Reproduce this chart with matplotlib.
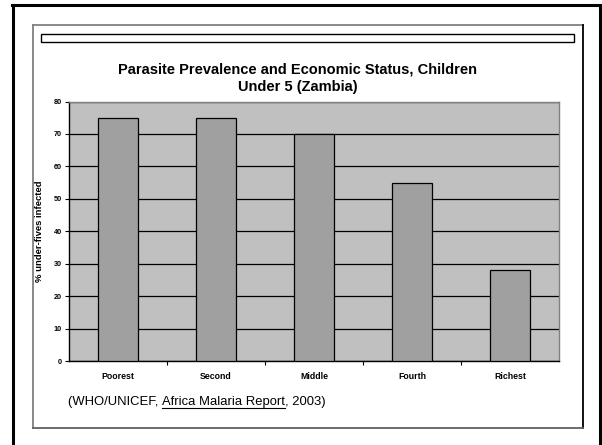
import matplotlib
matplotlib.use("Agg")
import matplotlib.pyplot as plt
from matplotlib.lines import Line2D
from matplotlib.patches import Rectangle

categories = ["Poorest", "Second", "Middle", "Fourth", "Richest"]
values = [75, 75, 70, 55, 28]
yticks = [0, 10, 20, 30, 40, 50, 60, 70, 80]
title = "Parasite Prevalence and Economic Status, Children\nUnder 5 (Zambia)"
ylabel = "% under-fives infected"
cite_pre = "(WHO/UNICEF, "
cite_ul = "Africa Malaria Report"
cite_post = ", 2003)"

plt.rcParams['font.family'] = ['Liberation Sans', 'DejaVu Sans']

W, H = 602, 445
fig = plt.figure(figsize=(W / 100, H / 100), dpi=100)

def fx(px):
    return px / W

def fy(py):
    return 1 - py / H

# outer black frame (left, top, right)
fig.add_artist(Line2D([fx(13), fx(13)], [fy(5), fy(446)], color='black', lw=2.2))
fig.add_artist(Line2D([fx(12), fx(600)], [fy(5), fy(5)], color='black', lw=2.2))
fig.add_artist(Line2D([fx(600), fx(600)], [fy(5), fy(446)], color='black', lw=2.2))

# inner box
fig.add_artist(Line2D([fx(33), fx(33)], [fy(25), fy(428)], color='#808080', lw=1.3))
fig.add_artist(Line2D([fx(33), fx(583)], [fy(25), fy(25)], color='#808080', lw=1.3))
fig.add_artist(Line2D([fx(583), fx(583)], [fy(25), fy(428)], color='black', lw=1.3))
fig.add_artist(Line2D([fx(33), fx(583)], [fy(428), fy(428)], color='#606060', lw=1.3))

# thin empty rectangle
fig.add_artist(Rectangle((fx(41), fy(42)), fx(574) - fx(41), fy(34) - fy(42),
                         facecolor='white', edgecolor='black', lw=1.0,
                         transform=fig.transFigure))

ax = fig.add_axes([fx(69), fy(361), fx(559) - fx(69), fy(101.5) - fy(361)])
ax.set_facecolor('#C0C0C0')
x = list(range(len(categories)))
ax.set_axisbelow(True)
ax.yaxis.grid(True, color='black', lw=0.9)
ax.bar(x, values, width=0.41, color='#A0A0A0', edgecolor='black', lw=0.9, zorder=3)
ax.set_xlim(-0.5, len(categories) - 0.5)
ax.set_ylim(0, 80)
ax.set_yticks(yticks)
ax.set_yticklabels([str(v) for v in yticks], fontsize=5.2, fontweight='bold')
ax.set_xticks(x)
ax.set_xticklabels(categories, fontsize=6.3, fontweight='bold')
ax.set_xticks([i + 0.5 for i in range(len(categories) - 1)], minor=True)
ax.tick_params(axis='x', which='major', length=0, pad=8)
ax.tick_params(axis='x', which='minor', length=3, width=0.8, direction='out')
ax.tick_params(axis='y', length=3, width=0.8, direction='out', pad=2)
for s in ['left', 'bottom']:
    ax.spines[s].set_color('black')
    ax.spines[s].set_linewidth(1.0)
for s in ['top', 'right']:
    ax.spines[s].set_color('#808080')
    ax.spines[s].set_linewidth(1.0)

fig.text(fx(39), fy(231), ylabel, fontsize=6.8, fontweight='bold', rotation=90,
         ha='center', va='center')

fig.text(fx(298), fy(78.5), title, fontsize=10.5, fontweight='bold', ha='center',
         va='center', linespacing=1.35)

# citation with underlined middle part
base = 405.5
t1 = fig.text(fx(68), fy(base), cite_pre, fontsize=9.4, ha='left', va='baseline')
t2 = fig.text(0, 0, cite_ul, fontsize=9.4, ha='left', va='baseline')
t3 = fig.text(0, 0, cite_post, fontsize=9.4, ha='left', va='baseline')
fig.canvas.draw()
r = fig.canvas.get_renderer()
b1 = t1.get_window_extent(r)
t2.set_position((b1.x1 / W, fy(base)))
fig.canvas.draw()
b2 = t2.get_window_extent(r)
t3.set_position((b2.x1 / W, fy(base)))
uy = fy(base) - 2.0 / H
fig.add_artist(Line2D([b2.x0 / W, b2.x1 / W], [uy, uy], color='black', lw=0.8))

fig.savefig("out.png", dpi=100)
